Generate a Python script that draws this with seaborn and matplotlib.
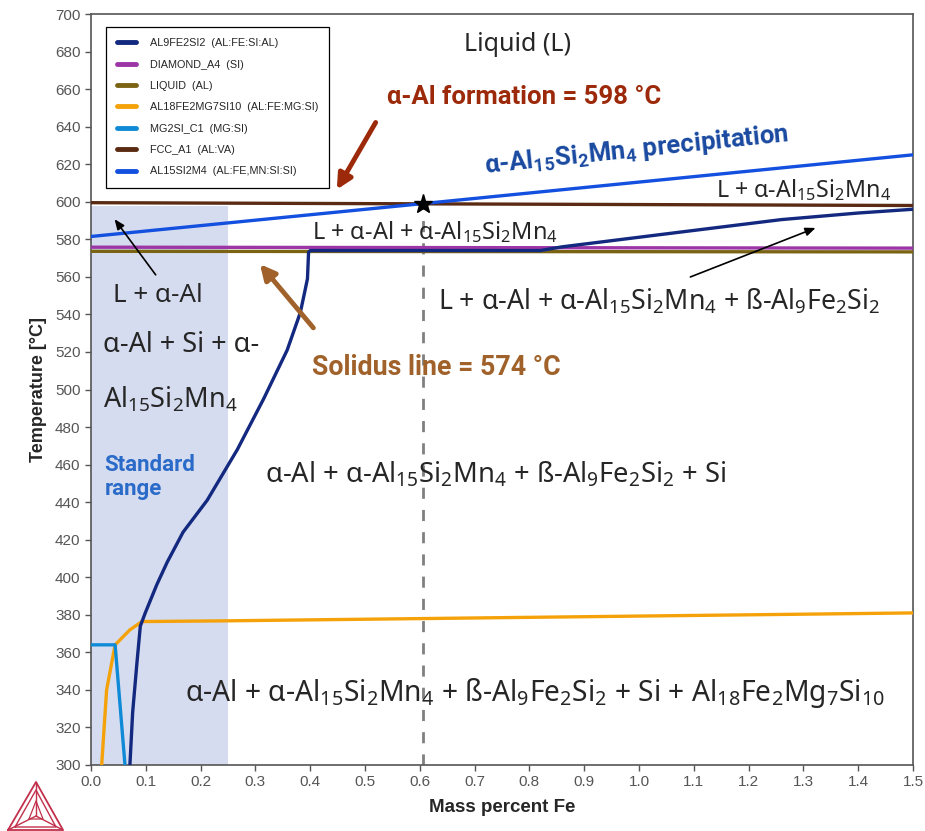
import numpy as np
import pandas as pd
import matplotlib
matplotlib.use("Agg")
import matplotlib.pyplot as plt
import seaborn as sns

# phase boundary lines (mass percent Fe, temperature in C)
al9fe2si2_fe = [0.071, 0.076, 0.084, 0.090, 0.099, 0.120, 0.139, 0.168, 0.212, 0.267, 0.315,
                0.358, 0.382, 0.390, 0.395, 0.397, 0.400, 0.820, 0.860, 1.080, 1.260, 1.400, 1.500]
al9fe2si2_t = [300, 328, 355, 374, 381, 396, 408, 424, 441, 468, 495,
               521, 541, 552, 559, 573, 574, 574, 576, 584, 590.5, 594, 596]
diamond_fe = [0.0, 1.5]
diamond_t = [575.8, 575.3]
liquid_fe = [0.0, 1.5]
liquid_t = [573.6, 573.3]
al18_fe = [0.0195, 0.0285, 0.044, 0.071, 0.093, 0.25, 1.5]
al18_t = [300, 340, 364, 372, 376.4, 376.8, 381]
mg2si_fe = [0.0, 0.044, 0.062]
mg2si_t = [364, 364, 300]
fcc_fe = [0.0, 1.5]
fcc_t = [599.5, 598]
al15_fe = [0.0, 0.605, 1.5]
al15_t = [581.5, 599, 625]

labels = ["AL9FE2SI2  (AL:FE:SI:AL)", "DIAMOND_A4  (SI)", "LIQUID  (AL)",
          "AL18FE2MG7SI10  (AL:FE:MG:SI)", "MG2SI_C1  (MG:SI)", "FCC_A1  (AL:VA)",
          "AL15SI2M4  (AL:FE,MN:SI:SI)"]
colors = ["#13287f", "#9c35a6", "#7a6414", "#f5a20a", "#0f8ad6", "#5a2a12", "#1450e0"]

std_range = [0.0, 0.25]
std_top = 598
alpha_al_point = (0.605, 599)

sns.set_style("ticks")
plt.rcParams['font.family'] = ['Liberation Sans', 'DejaVu Sans']
plt.rcParams['mathtext.default'] = 'regular'
txt_font = 'Noto Sans'
bold_font = 'Roboto'

A15 = "Al$_{15}$Si$_{2}$Mn$_{4}$"
B9 = "Al$_{9}$Fe$_{2}$Si$_{2}$"
A18 = "Al$_{18}$Fe$_{2}$Mg$_{7}$Si$_{10}$"

fig = plt.figure(figsize=(9.25, 8.31), dpi=100)
ax = fig.add_axes([91 / 925, 66 / 831, 822 / 925, 751 / 831])

ax.fill_between(std_range, 300, std_top, color="#d5dcef", lw=0, zorder=0)

series = [(al18_fe, al18_t, 3), (mg2si_fe, mg2si_t, 4), (liquid_fe, liquid_t, 2),
          (diamond_fe, diamond_t, 1), (fcc_fe, fcc_t, 5), (al15_fe, al15_t, 6),
          (al9fe2si2_fe, al9fe2si2_t, 0)]
for fe, t, i in series:
    df = pd.DataFrame({"fe": fe, "t": t})
    sns.lineplot(data=df, x="fe", y="t", sort=False, estimator=None, color=colors[i],
                 lw=2.4, label=labels[i], ax=ax, zorder=3)

ax.plot([alpha_al_point[0]] * 2, [300, alpha_al_point[1]], ls=(0, (4, 4)), color="#808080",
        lw=2, zorder=2)
ax.plot(*alpha_al_point, marker="*", color="black", ms=14, zorder=6)

h, l = ax.get_legend_handles_labels()
order = [l.index(lb) for lb in labels]
leg = ax.legend([h[i] for i in order], [l[i] for i in order], loc="upper left",
                bbox_to_anchor=(0.018, 0.983), borderaxespad=0, fontsize=7.8,
                handlelength=1.7, handletextpad=1.3, labelspacing=1.05,
                borderpad=1.05, fancybox=False, edgecolor="black", framealpha=1)
leg.get_frame().set_linewidth(0.9)
for lh in leg.get_lines():
    lh.set_linewidth(3.5)

ax.set_xlim(0, 1.5)
ax.set_ylim(300, 700)
ax.set_xticks(np.arange(0, 1.51, 0.1))
ax.set_xticklabels([f"{v:.1f}" for v in np.arange(0, 1.51, 0.1)])
ax.set_yticks(np.arange(300, 701, 20))
ax.tick_params(colors="#555555", labelsize=11, length=4, width=1)
for s in ax.spines.values():
    s.set_color("#555555")
    s.set_linewidth(1.2)
ax.set_xlabel("Mass percent Fe", fontsize=13.5, fontweight="bold", labelpad=7)
ax.set_ylabel("Temperature [°C]", fontsize=13, fontweight="bold", labelpad=6)

# region labels
kw = dict(family=txt_font, va="center")
ax.text(0.778, 683.5, "Liquid (L)", ha="center", fontsize=18, **kw)
ax.text(1.460, 606, "L + α-" + A15, ha="right", fontsize=16.7, **kw)
ax.text(0.628, 584, "L + α-Al + α-" + A15, ha="center", fontsize=16.9, **kw)
ax.text(0.040, 550, "L + α-Al", ha="left", fontsize=18.7, **kw)
ax.text(0.634, 546.6, "L + α-Al + α-" + A15 + " + ß-" + B9, ha="left", fontsize=19.2, **kw)
ax.text(0.022, 523.7, "α-Al + Si + α-", ha="left", fontsize=19.5, **kw)
ax.text(0.022, 494.4, A15, ha="left", fontsize=19.5, **kw)
ax.text(0.318, 454.5, "α-Al + α-" + A15 + " + ß-" + B9 + " + Si", ha="left", fontsize=19.7,
        **kw)
ax.text(0.172, 338.3, "α-Al + α-" + A15 + " + ß-" + B9 + " + Si + " + A18, ha="left",
        fontsize=20.3, **kw)
ax.text(0.025, 453.4, "Standard\nrange", ha="left", va="center", fontsize=16,
        fontweight="bold", color="#2a6ac8", linespacing=1.15, family=bold_font)

# highlighted labels
ax.text(0.541, 655.8, "α-Al formation = 598 °C", ha="left", va="center", fontsize=18.5,
        fontweight="bold", color="#9c2a0a", family=bold_font)
ax.text(0.404, 511.5, "Solidus line = 574 °C", ha="left", va="center", fontsize=19.3,
        fontweight="bold", color="#a0622a", family=bold_font)
ax.text(0.996, 627.6, "α-" + A15 + " precipitation", ha="center", va="center",
        fontsize=18.5, fontweight="bold", color="#1a4aa0", rotation=6,
        rotation_mode="anchor", family=bold_font)

# arrows
ax.annotate("", xy=(0.446, 605.2), xytext=(0.522, 643.5),
            arrowprops=dict(arrowstyle="-|>,head_width=0.45,head_length=0.9",
                            color="#9c2a0a", lw=3.5))
ax.annotate("", xy=(0.305, 567.9), xytext=(0.409, 531.7),
            arrowprops=dict(arrowstyle="-|>,head_width=0.45,head_length=0.9",
                            color="#a0622a", lw=3.5))
ax.annotate("", xy=(0.040, 591.9), xytext=(0.121, 559.9),
            arrowprops=dict(arrowstyle="-|>,head_width=0.25,head_length=0.6",
                            color="black", lw=1.2))
ax.annotate("", xy=(1.327, 586.6), xytext=(1.089, 559.4),
            arrowprops=dict(arrowstyle="-|>,head_width=0.25,head_length=0.6",
                            color="black", lw=1.2))

# logo
lax = fig.add_axes([0, 0, 72 / 925, 52 / 831])
lax.set_xlim(0, 72)
lax.set_ylim(0, 52)
lax.axis("off")
logo_c = "#c2304c"
lax.plot([8, 36, 63, 8], [1, 49, 1, 1], color=logo_c, lw=1.3)
lax.plot([15, 36, 56, 15], [4, 41, 4, 4], color=logo_c, lw=1.0)
for px, py in [(8, 1), (36, 49), (63, 1)]:
    lax.plot([px, 36], [py, 15], color=logo_c, lw=1.0)
lax.plot([29, 36, 43, 29], [12, 30, 12, 12], color=logo_c, lw=0.9)

fig.savefig("out.png", dpi=100)
